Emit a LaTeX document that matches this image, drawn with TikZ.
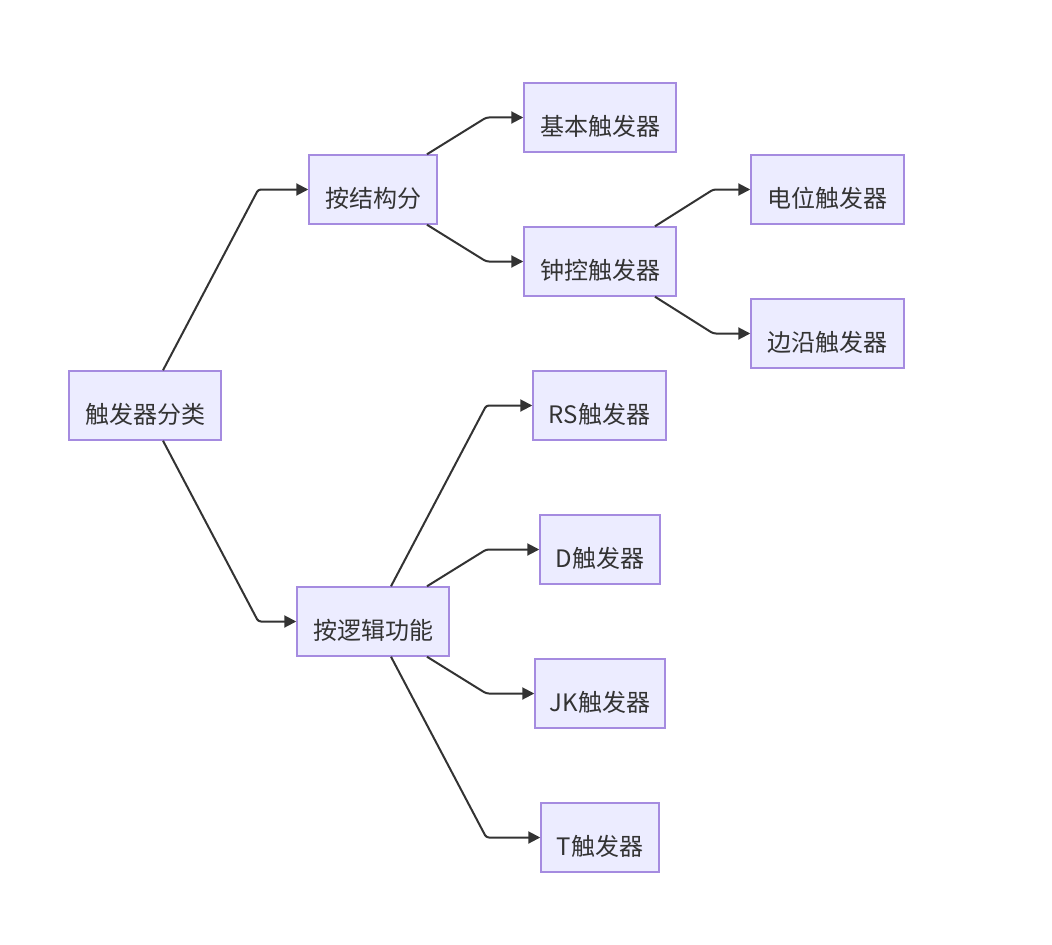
\documentclass[tikz,border=0pt]{standalone}
\usepackage{fontspec}
\setmainfont{Noto Sans CJK SC}
\usetikzlibrary{arrows.meta}
\definecolor{boxfill}{HTML}{ECECFF}
\definecolor{boxline}{HTML}{A58BE0}
\definecolor{ink}{HTML}{333333}
\tikzset{
  box/.style={draw=boxline, fill=boxfill, line width=1.1pt, inner sep=0pt,
    minimum height=51.75pt, text=ink, font=\fontsize{18pt}{20pt}\selectfont,
    text height=26.4pt, text depth=0pt},
  link/.style={draw=ink, line width=1.5pt, rounded corners=2pt,
    -{Triangle[length=9pt,width=9pt]}}
}
\begin{document}
\begin{tikzpicture}[x=0.75pt,y=-0.75pt]
\useasboundingbox (0,0) rectangle (1052,945);
\node[box, minimum width=114pt]    (root) at (145,405.5) {触发器分类};
\node[box, minimum width=96pt]     (jg)   at (373,189.5) {按结构分};
\node[box, minimum width=114pt]    (lj)   at (373,621.5) {按逻辑功能};
\node[box, minimum width=114pt]    (jb)   at (600,117.5) {基本触发器};
\node[box, minimum width=114pt]    (zk)   at (600,261.5) {钟控触发器};
\node[box, minimum width=114.75pt] (dw)   at (827.5,189.5) {电位触发器};
\node[box, minimum width=114.75pt] (by)   at (827.5,333.5) {边沿触发器};
\node[box, minimum width=99.75pt]  (rs)   at (599.5,405.5) {RS触发器};
\node[box, minimum width=90pt]     (d)    at (600,549.5) {D触发器};
\node[box, minimum width=97.5pt]   (jk)   at (600,693.5) {JK触发器};
\node[box, minimum width=88.5pt]   (t)    at (600,837.5) {T触发器};

\draw[link] ([xshift=13.5pt]root.north) -- ([xshift=-37.5pt]jg.west) -- (jg.west);
\draw[link] ([xshift=13.5pt]root.south) -- ([xshift=-28.5pt]lj.west) -- (lj.west);
\draw[link] ([xshift=40.5pt]jg.north) -- ([xshift=-27.75pt]jb.west) -- (jb.west);
\draw[link] ([xshift=40.5pt]jg.south) -- ([xshift=-27.75pt]zk.west) -- (zk.west);
\draw[link] ([xshift=41.25pt]zk.north) -- ([xshift=-27.75pt]dw.west) -- (dw.west);
\draw[link] ([xshift=41.25pt]zk.south) -- ([xshift=-27.75pt]by.west) -- (by.west);
\draw[link] ([xshift=13.5pt]lj.north) -- ([xshift=-34.5pt]rs.west) -- (rs.west);
\draw[link] ([xshift=40.5pt]lj.north) -- ([xshift=-39.75pt]d.west) -- (d.west);
\draw[link] ([xshift=40.5pt]lj.south) -- ([xshift=-36pt]jk.west) -- (jk.west);
\draw[link] ([xshift=13.5pt]lj.south) -- ([xshift=-40.5pt]t.west) -- (t.west);
\end{tikzpicture}
\end{document}
